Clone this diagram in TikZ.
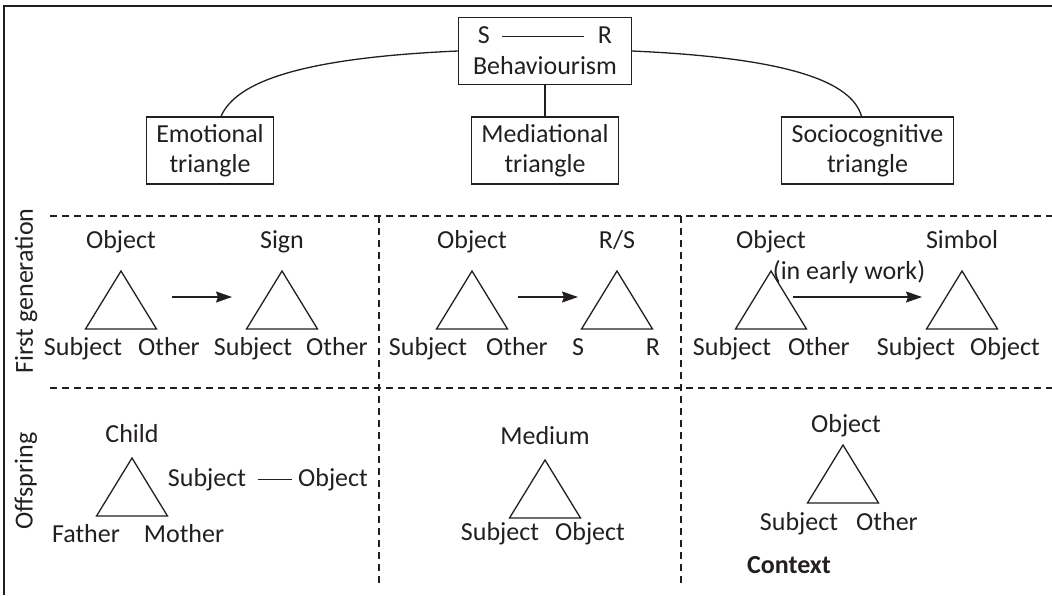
\documentclass[tikz,border=0pt]{standalone}
\usepackage{fontspec}
\setmainfont{Carlito}
\usetikzlibrary{arrows.meta}
\definecolor{ink}{RGB}{35,31,32}
\tikzset{
  tri/.pic={\draw (0,0)--(-35.5,58)--(35.5,58)--cycle;},
  box/.style={draw,align=center,inner xsep=5pt,inner ysep=3pt,minimum height=33.5pt},
  lbl/.style={anchor=base,inner sep=0pt},
  sep/.style={dash pattern=on 3.5pt off 2.5pt},
  arr/.style={-{Stealth[length=8pt,width=5.5pt,inset=1pt]}}
}
\begin{document}
\begin{tikzpicture}[x=.5pt,y=-.5pt,line width=.65pt,color=ink,font=\fontsize{13}{15}\selectfont]
\useasboundingbox (0,0) rectangle (1052,595);
\draw[line width=1pt] (4,595)--(4,6)--(1052,6);
\node[box,minimum width=86.5pt] (beh) at (545,51) {S\hspace{6pt}\rule[3.5pt]{41pt}{.6pt}\hspace{7pt}R\\[.5pt]Behaviourism};
\node[box] (emo) at (210,150.5) {Emotional\\triangle};
\node[box] (med) at (545,150.5) {Mediational\\triangle};
\node[box] (soc) at (867.5,150.5) {Sociocognitive\\triangle};
\draw (beh.west) .. controls (300,58) and (236,82) .. ([xshift=5.5pt]emo.north);
\draw (beh.east) .. controls (790,58) and (852,82) .. ([xshift=-3pt]soc.north);
\draw (beh.south)--(med.north);
\draw[sep] (50,216)--(1052,216);
\draw[sep] (50,388)--(1052,388);
\draw[sep] (379,216)--(379,584);
\draw[sep] (681,216)--(681,584);
\node[rotate=90] (fg) at (26,291) {First generation};
\node[rotate=90] (off) at (26,481) {Offspring};
% first generation
\pic at (121,271) {tri};
\pic at (282,271) {tri};
\node[lbl] (eo) at (121,248) {Object};
\node[lbl] (esg) at (282,248) {Sign};
\node[lbl] (esa) at (83,355) {Subject};
\node[lbl] (eoa) at (169,355) {Other};
\node[lbl] (esb) at (253,355) {Subject};
\node[lbl] (eob) at (337,355) {Other};
\coordinate (ea) at (172,297);
\coordinate (eb) at (232,297);
\draw[arr] (ea)--(eb);
\pic at (472,271) {tri};
\pic at (617,271) {tri};
\node[lbl] (mo) at (472,248) {Object};
\node[lbl] (mrs) at (617,248) {R/S};
\node[lbl] (msa) at (428,355) {Subject};
\node[lbl] (moa) at (517,355) {Other};
\node[lbl] (ms) at (578,355) {S};
\node[lbl] (mr) at (653,355) {R};
\coordinate (ma) at (518,297);
\coordinate (mb) at (578,297);
\draw[arr] (ma)--(mb);
\pic at (771,271) {tri};
\pic at (962,271) {tri};
\node[lbl] (so) at (771,248) {Object};
\node[lbl] (ssy) at (962,248) {Simbol};
\node[lbl] (sew) at (849,279) {(in early work)};
\node[lbl] (ssa) at (732,355) {Subject};
\node[lbl] (soa) at (819,355) {Other};
\node[lbl] (ssb) at (916,355) {Subject};
\node[lbl] (sob) at (1005,355) {Object};
\coordinate (sa) at (793,297);
\coordinate (sb) at (922,297);
\draw[arr] (sa)--(sb);
% offspring
\pic at (132,458) {tri};
\node[lbl] (ech) at (132,442) {Child};
\node[lbl] (efa) at (86,542) {Father};
\node[lbl] (emo2) at (184,542) {Mother};
\node[lbl] (esc) at (207,486) {Subject};
\node[lbl] (eoc) at (333,486) {Object};
\draw[shorten <=5.5pt,shorten >=2.5pt] (esc.east)--(eoc.west);
\pic at (545,460) {tri};
\node[lbl] (mme) at (545,444) {Medium};
\node[lbl] (msc) at (500,540) {Subject};
\node[lbl] (moc) at (590,540) {Object};
\pic at (843,445) {tri};
\node[lbl] (soc2) at (846,432) {Object};
\node[lbl] (ssc) at (799,530) {Subject};
\node[lbl] (soc3) at (887,530) {Other};
\node[lbl,font=\fontsize{13}{15}\selectfont\bfseries] (sct) at (789,573) {Context};
\end{tikzpicture}
\end{document}
